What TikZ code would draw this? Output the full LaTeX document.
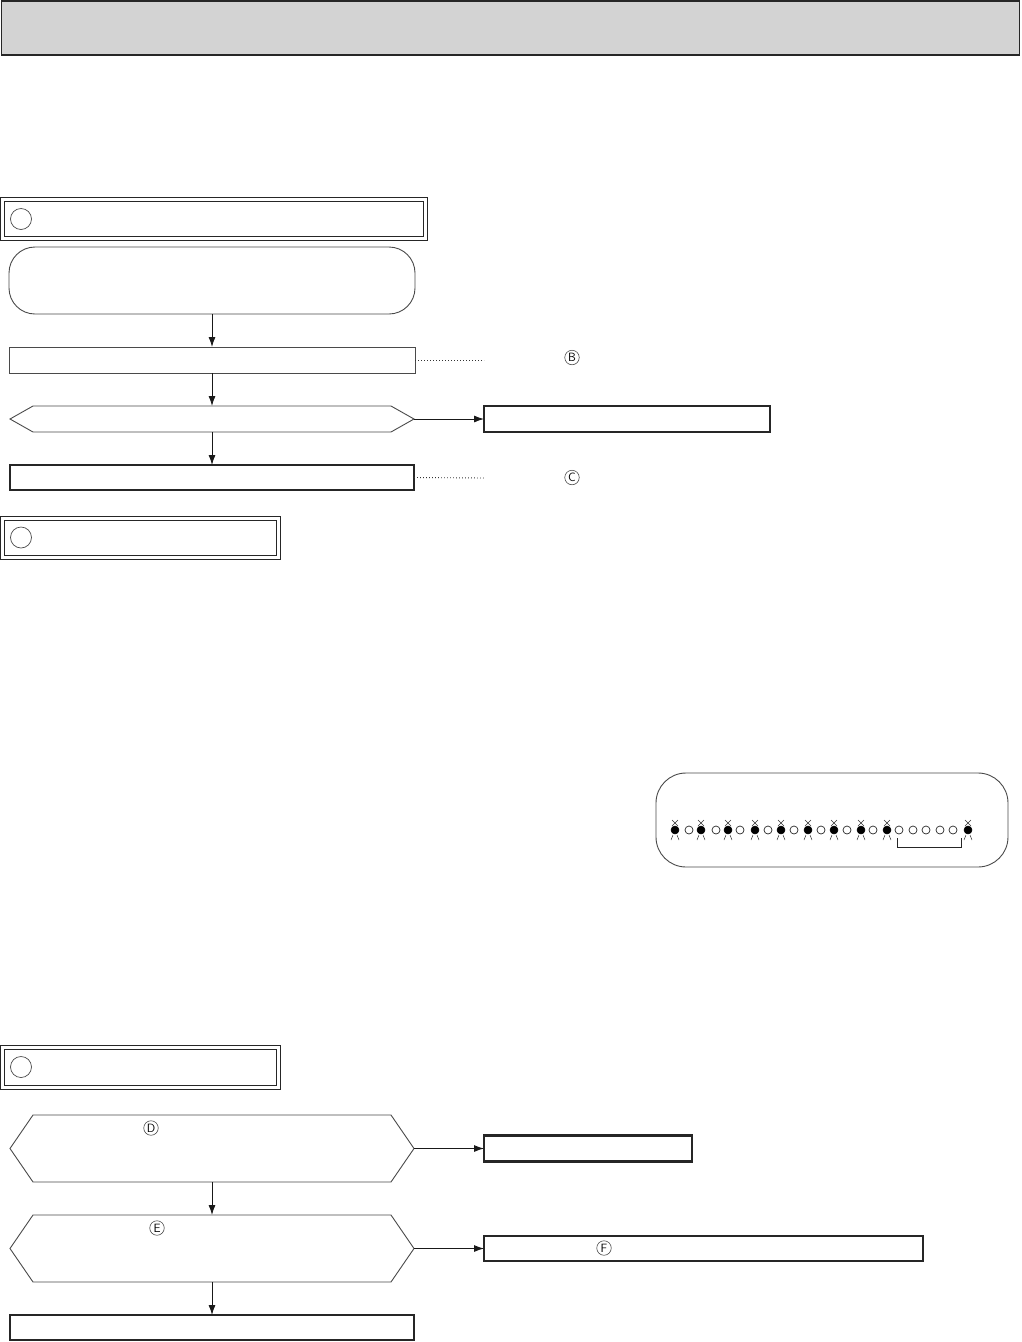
\documentclass[tikz,border=0pt]{standalone}
\usetikzlibrary{arrows.meta}
\definecolor{hdrgray}{HTML}{D3D3D3}
\definecolor{linegray}{HTML}{4A4A4A}
\begin{document}
\begin{tikzpicture}[x=1pt,y=-1pt,
  thinbox/.style={draw=linegray,line width=0.9pt,outer sep=0pt,inner sep=0pt},
  thickbox/.style={draw=black!85,line width=2.2pt,outer sep=0pt,inner sep=0pt},
  anchorbox/.style={outer sep=0pt,inner sep=0pt},
  sechdr/.style={draw=black!85,line width=1.1pt,double=white,double distance=2.8pt,outer sep=0pt,inner sep=0pt,minimum height=39.5pt},
  secmark/.style={circle,draw=linegray,line width=0.7pt,minimum size=21pt,inner sep=0pt},
  cmark/.style={circle,draw=black!70,line width=0.6pt,minimum size=14.5pt,inner sep=0pt,font=\sffamily\fontsize{12}{12}\selectfont},
  arr/.style={-{Latex[length=10pt,width=7pt]},line width=0.9pt,draw=black!90},
  dots/.style={line width=0.9pt,dash pattern=on 0.9pt off 2.1pt,draw=black!80},
  ledon/.style={circle,fill=black,draw=black,line width=0.5pt,minimum size=8pt,inner sep=0pt},
  ledoff/.style={circle,draw=black!85,line width=0.7pt,minimum size=8pt,inner sep=0pt},
  ray/.style={line width=0.5pt,draw=black!80}
]
\useasboundingbox (0,0) rectangle (1021,1342);

% title bar
\node[draw=black!85,line width=1.6pt,fill=hdrgray,outer sep=0pt,minimum width=1018pt,minimum height=54pt] (title) at (510.5,28) {};

% ===== Section A =====
\node[sechdr,minimum width=423pt] (secA) at (214,219) {};
\node[secmark] (markA) at (21,219) {};

\node[thinbox,rounded corners=26pt,minimum width=406pt,minimum height=67pt] (start) at (212,280.5) {};
\node[thinbox,minimum width=406pt,minimum height=26pt] (stepB) at (212,360) {};
\node[anchorbox,minimum width=404pt,minimum height=26pt] (decA) at (212,419) {};
\draw[linegray,line width=0.9pt] (decA.west) -- ([xshift=23pt]decA.north west) -- ([xshift=-23pt]decA.north east) -- (decA.east) -- ([xshift=-23pt]decA.south east) -- ([xshift=23pt]decA.south west) -- cycle;
\node[thickbox,minimum width=286pt,minimum height=26pt] (resA) at (627,419) {};
\node[thickbox,minimum width=404pt,minimum height=25pt] (stepC) at (212,477.5) {};

\coordinate (dotB) at (484,360);
\coordinate (dotC) at (484,478);
\node[cmark] (mB) at (572,357.5) {B};
\node[cmark] (mC) at (572,477.5) {C};

\draw[arr] (start.south) -- (stepB.north);
\draw[arr] (stepB.south) -- (decA.north);
\draw[arr] (decA.east) -- (decA.east -| resA.west);
\draw[arr] (decA.south) -- (stepC.north);
\draw[dots] (stepB.east) -- (dotB);
\draw[dots] (stepC.east) -- (dotC);

% ===== Section B =====
\node[sechdr,minimum width=276pt] (secB) at (140.5,538) {};
\node[secmark] (markB) at (21,537.5) {};

% LED display
\node[thinbox,rounded corners=30pt,minimum width=352pt,minimum height=94pt] (leds) at (832,820) {};
\foreach \x [count=\i] in {675,701,728,755,781,808,834,861,887,968} {
  \node[ledon] (on\i) at (\x,830) {};
  \draw[ray] (\x-3,820) -- (\x+3,826) (\x+3,820) -- (\x-3,826);
  \draw[ray] (\x-2,835) -- (\x-4,840) (\x+2,835) -- (\x+4,840);
}
\foreach \x [count=\i] in {689,716,740,768,794,821,847,873,899,913,926,940,953} {
  \node[ledoff] (off\i) at (\x,830) {};
}
\draw[line width=0.8pt,draw=black!85] (897,838) -- (897,847) -- (961,847) -- (961,838);

% ===== Section C =====
\node[sechdr,minimum width=276pt] (secC) at (140.5,1067.5) {};
\node[secmark] (markC) at (21,1067) {};

\node[anchorbox,minimum width=404pt,minimum height=67pt] (decD) at (212,1148.5) {};
\draw[linegray,line width=0.9pt] (decD.west) -- ([xshift=23pt]decD.north west) -- ([xshift=-23pt]decD.north east) -- (decD.east) -- ([xshift=-23pt]decD.south east) -- ([xshift=23pt]decD.south west) -- cycle;
\node[cmark] (mD) at (151,1128) {D};
\node[thickbox,minimum width=208pt,minimum height=26pt] (resD) at (588,1148.5) {};

\node[anchorbox,minimum width=404pt,minimum height=67pt] (decE) at (212,1248.5) {};
\draw[linegray,line width=0.9pt] (decE.west) -- ([xshift=23pt]decE.north west) -- ([xshift=-23pt]decE.north east) -- (decE.east) -- ([xshift=-23pt]decE.south east) -- ([xshift=23pt]decE.south west) -- cycle;
\node[cmark] (mE) at (157,1228) {E};
\node[thickbox,minimum width=439pt,minimum height=25pt] (resE) at (703.5,1248.5) {};
\node[cmark] (mF) at (604,1248) {F};

\node[thickbox,minimum width=404pt,minimum height=25pt] (final) at (212,1327.5) {};

\draw[arr] (decD.east) -- (decD.east -| resD.west);
\draw[arr] (decD.south) -- (decE.north);
\draw[arr] (decE.east) -- (decE.east -| resE.west);
\draw[arr] (decE.south) -- (final.north);
\end{tikzpicture}
\end{document}
